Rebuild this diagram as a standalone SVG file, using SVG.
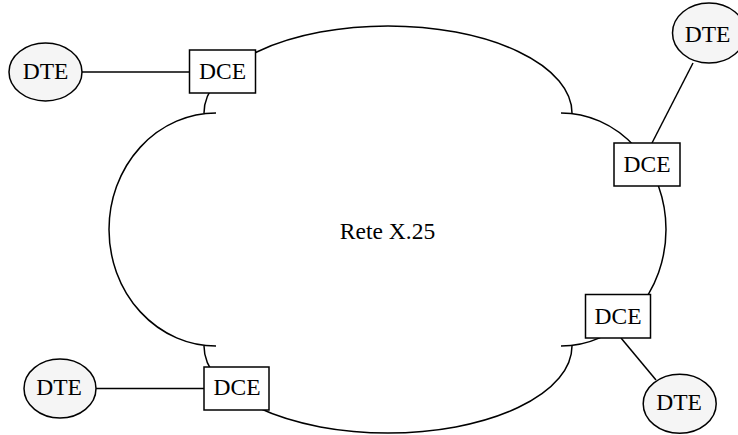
<svg xmlns="http://www.w3.org/2000/svg" width="738" height="435" viewBox="0 0 738 435">
<style>
.ln{fill:none;stroke:#000;stroke-width:1.5}
.dte{fill:#f5f5f5;stroke:#000;stroke-width:1.5}
.dce{fill:#fff;stroke:#000;stroke-width:1.5}
</style>
<rect width="738" height="435" fill="#fff"/>
<g font-family="Liberation Serif, Times New Roman, serif" font-size="23.5" text-anchor="middle" fill="#000">
<g id="cloud">
<path class="ln" d="M204,113 A184,87 0 0 1 572,113"/>
<path class="ln" d="M204,346 A184,87 0 0 0 572,346"/>
<path class="ln" d="M216,113 A107,116.5 0 0 0 216,346"/>
<path class="ln" d="M561,113 A105,116.5 0 0 1 561,346"/>
<text x="387.5" y="239">Rete X.25</text>
</g>
<g id="connectors">
<line class="ln" x1="82" y1="72" x2="190" y2="72"/>
<line class="ln" x1="96" y1="388.5" x2="204" y2="388.5"/>
<line class="ln" x1="693" y1="63" x2="652" y2="143"/>
<line class="ln" x1="621" y1="338" x2="656" y2="380"/>
</g>
<g id="dte1"><ellipse class="dte" cx="45.5" cy="72" rx="36.5" ry="29"/><text x="45.5" y="78.5">DTE</text></g>
<g id="dce1"><rect class="dce" x="189.5" y="50" width="66" height="43"/><text x="222.5" y="78.5">DCE</text></g>
<g id="dte2"><ellipse class="dte" cx="709" cy="33" rx="36.5" ry="30"/><text x="707.5" y="42">DTE</text></g>
<g id="dce2"><rect class="dce" x="614" y="143" width="66" height="43"/><text x="647" y="171.5">DCE</text></g>
<g id="dce3"><rect class="dce" x="585.5" y="294.5" width="65" height="43.5"/><text x="618" y="323.5">DCE</text></g>
<g id="dte3"><ellipse class="dte" cx="679.7" cy="403.7" rx="36.5" ry="29.5"/><text x="679" y="409.5">DTE</text></g>
<g id="dce4"><rect class="dce" x="204" y="367" width="65" height="43"/><text x="237" y="395">DCE</text></g>
<g id="dte4"><ellipse class="dte" cx="60" cy="388.5" rx="36" ry="29.5"/><text x="59" y="395">DTE</text></g>
</g>
</svg>
